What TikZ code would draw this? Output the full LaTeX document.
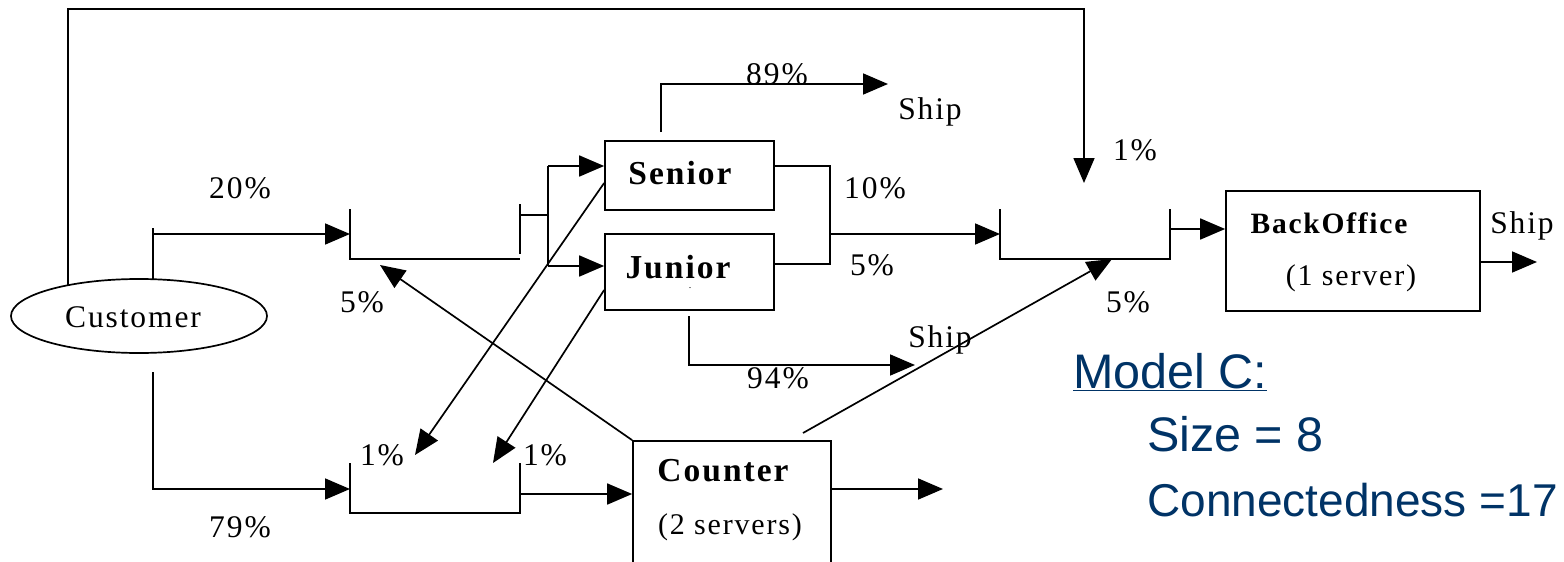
\documentclass[tikz,border=0pt]{standalone}
\usepackage{fontspec}
\setmainfont{Liberation Serif}
\newfontfamily\lsfont[LetterSpace=6]{Liberation Serif}
\newfontfamily\armodel{Liberation Sans}
\usetikzlibrary{arrows.meta,shapes.geometric}
\definecolor{modelblue}{RGB}{0,51,102}
\tikzset{
  ln/.style={line width=1.7pt},
  arr/.style={ln,-{Triangle[length=25pt,width=21pt]}},
  boxn/.style={draw,line width=1.7pt,rectangle,inner sep=0pt},
  lbl/.style={inner sep=0pt,font=\lsfont\fontsize{31.5}{36}\selectfont},
  slbl/.style={inner sep=0pt,font=\lsfont\fontsize{30}{36}\selectfont},
  blbl/.style={inner sep=0pt,font=\lsfont\bfseries\fontsize{33.5}{38}\selectfont},
  mtxt/.style={inner sep=0pt,anchor=base west,text=modelblue,font=\armodel\fontsize{48.5}{56}\selectfont},
}
\begin{document}
\begin{tikzpicture}[x=1pt,y=-1pt]
\useasboundingbox (0,0) rectangle (1564,562);
\clip (0,0) rectangle (1564,562);
% nodes
\node[draw,ellipse,line width=1.7pt,minimum width=256pt,minimum height=74pt,inner sep=0pt] (cust) at (139,316) {};
\node[lbl] (custl) at (133,317) {Customer};
\node[boxn,minimum width=169pt,minimum height=69pt] (senior) at (689.5,175.5) {};
\node[blbl] (seniorl) at (680,173) {Senior};
\node[boxn,minimum width=169pt,minimum height=76pt] (junior) at (689.5,272) {};
\node[blbl] (juniorl) at (678,267) {Junior};
\node[inner sep=0pt,font=\fontsize{10}{10}\selectfont] (jdot) at (690,288) {.};
\node[boxn,minimum width=198pt,minimum height=180pt] (counter) at (732,531) {};
\node[blbl] (counterl) at (723,471) {Counter};
\node[slbl] (counters) at (730,527) {(2 servers)};
\node[boxn,minimum width=254pt,minimum height=120pt] (back) at (1353,251) {};
\node[blbl,font=\lsfont\bfseries\fontsize{29.5}{34}\selectfont] (backl) at (1329,223) {BackOffice};
\node[slbl] (backs) at (1351,278) {(1 server)};
% queue coordinates
\coordinate (q1a) at (350,209); \coordinate (q1b) at (350,259); \coordinate (q1c) at (520,259);
\coordinate (q1d) at (520,254); \coordinate (q1e) at (520,204);
\coordinate (q2a) at (350,463); \coordinate (q2b) at (350,513); \coordinate (q2c) at (520,513); \coordinate (q2d) at (520,463);
\coordinate (q3a) at (1000,209); \coordinate (q3b) at (1000,259); \coordinate (q3c) at (1170,259); \coordinate (q3d) at (1170,209);
\draw[ln] (q1a) -- (q1b) -- (q1c);
\draw[ln] (q1d) -- (q1e);
\draw[ln] (q2a) -- (q2b) -- (q2c) -- (q2d);
\draw[ln] (q3a) -- (q3b) -- (q3c) -- (q3d);
% connectors
\coordinate (c1) at (68,285);
\coordinate (t1) at (1084,183);
\draw[arr] (c1) |- (1084,9) -- (t1);
\coordinate (c2) at (153,279);
\draw[ln] (c2) -- (153,228);
\draw[arr] (153,234) -- (350,234);
\coordinate (s1) at (548,215);
\draw[ln] (520,215) -- (s1);
\draw[ln] (548,166) -- (548,266);
\draw[arr] (548,166) -- (senior.west |- 0,166);
\draw[arr] (548,266) -- (junior.west |- 0,266);
\coordinate (ship1) at (888,84);
\draw[arr] (661,132) -- (661,84) -- (ship1);
\draw[ln] (senior.east |- 0,166) -- (830,166) -- (830,264) -- (junior.east |- 0,264);
\draw[arr] (830,234) -- (q3a |- 0,234);
\draw[arr] (1170,229) -- (back.west |- 0,229);
\coordinate (ship3) at (1537,262);
\draw[arr] (back.east |- 0,262) -- (ship3);
\coordinate (ship2) at (915,365);
\draw[arr] (689,316) -- (689,365) -- (ship2);
\coordinate (p1) at (415,455);
\draw[arr] (senior.west |- 0,183) -- (p1);
\coordinate (p2) at (493,463);
\draw[arr] (junior.west |- 0,290) -- (p2);
\coordinate (p3) at (380,265);
\draw[arr] (counter.north west) -- (p3);
\coordinate (p4) at (1112,259);
\draw[arr] (803,433) -- (p4);
\coordinate (c3) at (153,372);
\draw[arr] (c3) -- (153,489) -- (350,489);
\draw[arr] (520,494) -- (counter.west |- 0,494);
\coordinate (ship4) at (943,489);
\draw[arr] (counter.east |- 0,489) -- (ship4);
% labels
\node[lbl] (l20) at (240,188) {20\%};
\node[lbl] (l5a) at (362,302) {5\%};
\node[lbl] (l89) at (777,74) {89\%};
\node[lbl] (lship1) at (930,112) {Ship};
\node[lbl] (l10) at (875,188) {10\%};
\node[lbl] (l5b) at (872,265) {5\%};
\node[lbl] (l1a) at (1135,150) {1\%};
\node[lbl] (l5c) at (1128,302) {5\%};
\node[lbl] (lship3) at (1522,226) {Ship};
\node[lbl] (l94) at (778,378) {94\%};
\node[lbl] (lship2) at (940,340) {Ship};
\node[lbl] (l1b) at (382,455) {1\%};
\node[lbl] (l1c) at (545,455) {1\%};
\node[lbl] (l79) at (240,527) {79\%};
% model text
\node[mtxt] (m1) at (1073,388) {\underline{Model C:}};
\node[mtxt] (m2) at (1147,451) {Size = 8};
\node[mtxt,font=\armodel\fontsize{46}{54}\selectfont] (m3) at (1147,516) {Connectedness =17};
\end{tikzpicture}
\end{document}
